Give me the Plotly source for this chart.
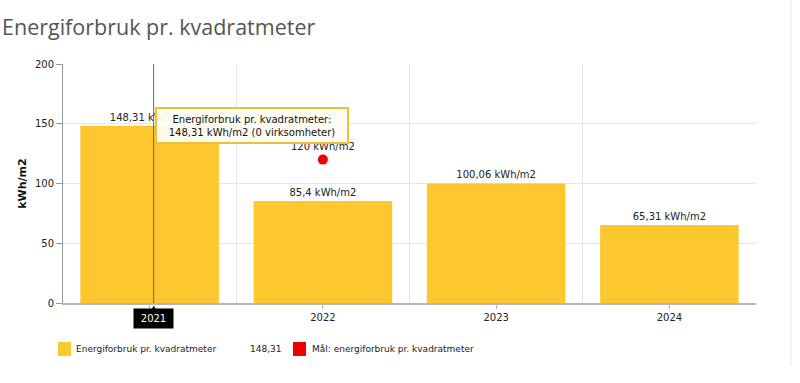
import plotly.graph_objects as go

years = ["2021", "2022", "2023", "2024"]
values = [148.31, 85.4, 100.06, 65.31]
value_labels = ["148,31 kWh/m2", "85,4 kWh/m2", "100,06 kWh/m2", "65,31 kWh/m2"]
target_year_index = [1]
target_values = [120]
target_labels = ["120 kWh/m2"]
y_ticks = [0, 50, 100, 150, 200]
series_names = ["Energiforbruk pr. kvadratmeter", "Mål: energiforbruk pr. kvadratmeter"]
legend_value = "148,31"
hover_index = 0
cursor_offset = 0.023  # mouse position relative to category centre

xs = list(range(len(years)))
BAR = "#FDC82F"
RED = "#EE0000"
FONT = "DejaVu Sans"

W, H = 800, 383
L, R, T, B = 63, 44, 64, 80
PW, PH = W - L - R, H - T - B


def px(xp):
    return (xp - L) / PW


def py(yp):
    return (H - B - yp) / PH


# the hovered category's tick label is hidden under the black crosshair label
tick_text = [("" if i == hover_index else y) for i, y in enumerate(years)]

fig = go.Figure()
fig.add_trace(go.Bar(
    x=xs, y=values, width=0.8, marker=dict(color=BAR, line=dict(width=0)),
    text=value_labels, textposition="outside", cliponaxis=False,
    textfont=dict(family=FONT, size=10, color="#222"),
    name=series_names[0], showlegend=False,
))
fig.add_trace(go.Scatter(
    x=target_year_index, y=target_values, mode="markers+text",
    text=target_labels, textposition="top center",
    textfont=dict(family=FONT, size=10, color="#222"),
    marker=dict(color=RED, size=10, symbol="circle"),
    name=series_names[1], showlegend=False,
))
hx = xs[hover_index] + cursor_offset
# crosshair on hovered category
fig.add_shape(type="line", x0=hx, x1=hx, y0=0, y1=1, yref="paper",
              line=dict(color="#666", width=1))
# tooltip
fig.add_annotation(
    x=hx, y=values[hover_index], xanchor="left", yanchor="middle", xshift=1,
    text=series_names[0] + ":<br>" + value_labels[hover_index] + " (0 virksomheter)",
    showarrow=False, align="center", width=188, height=31,
    font=dict(family=FONT, size=10, color="#111"),
    bgcolor="rgba(255,253,242,0.96)", bordercolor="#EDC03A", borderwidth=2, borderpad=1,
)
# x crosshair label
fig.add_annotation(
    x=hx, y=0, yref="y", yanchor="top", yshift=-5, text=years[hover_index], showarrow=False,
    font=dict(family=FONT, size=10, color="white"), bgcolor="black", borderpad=4,
    width=31,
)
fig.add_annotation(
    x=hx, y=0, yref="y", yanchor="top", yshift=1, text="▲", showarrow=False,
    font=dict(family=FONT, size=7, color="black"),
)

# manual legend
leg_y = py(349)
fig.add_shape(type="rect", xref="paper", yref="paper",
              x0=px(58), x1=px(71), y0=py(356), y1=py(342),
              fillcolor=BAR, line=dict(width=0))
fig.add_annotation(x=px(74), y=leg_y, xref="paper", yref="paper", xanchor="left", yanchor="middle",
                   text=series_names[0], showarrow=False,
                   font=dict(family=FONT, size=9, color="#222"))
fig.add_annotation(x=px(248), y=leg_y, xref="paper", yref="paper", xanchor="left", yanchor="middle",
                   text=legend_value, showarrow=False,
                   font=dict(family=FONT, size=9, color="#222"))
fig.add_shape(type="rect", xref="paper", yref="paper",
              x0=px(293), x1=px(306), y0=py(356), y1=py(342),
              fillcolor=RED, line=dict(width=0))
fig.add_annotation(x=px(310), y=leg_y, xref="paper", yref="paper", xanchor="left", yanchor="middle",
                   text=series_names[1], showarrow=False,
                   font=dict(family=FONT, size=9, color="#222"))

# page border at right
fig.add_shape(type="line", xref="paper", yref="paper", x0=px(791), x1=px(791), y0=py(366), y1=py(0),
              line=dict(color="#e8e8e8", width=1))

fig.update_layout(
    width=W, height=H,
    margin=dict(l=L, r=R, t=T, b=B),
    paper_bgcolor="white", plot_bgcolor="white",
    title=dict(text="Energiforbruk pr. kvadratmeter", x=2 / W, xanchor="left", y=1 - 20 / H, yanchor="top",
               font=dict(family="Open Sans", size=21.5, color="#555")),
    showlegend=False,
    xaxis=dict(
        range=[-0.5, 3.5], tickvals=xs, ticktext=tick_text, showgrid=False, zeroline=False,
        showline=True, linecolor="#b5b5b5", linewidth=2, ticks="outside", ticklen=4, tickcolor="#b5b5b5",
        tickfont=dict(family=FONT, size=10, color="#222"),
        minor=dict(tickvals=[0.5, 1.5, 2.5, 3.5], showgrid=True, gridcolor="#e6e6e6", ticks=""),
    ),
    yaxis=dict(
        range=[0, 200], tickvals=y_ticks, showgrid=True, gridcolor="#e6e6e6", zeroline=False,
        showline=True, linecolor="#999", linewidth=1, ticks="outside", ticklen=6, tickcolor="#999",
        tickfont=dict(family=FONT, size=10, color="#222"),
        title=dict(text="<b>kWh/m2</b>", font=dict(family=FONT, size=11, color="#111"), standoff=6),
    ),
)
fig.write_html("out.html", config={"displayModeBar": False})

with open("out.html", "r", encoding="utf-8") as f:
    html = f.read()
html = html.replace("<body>", '<body style="margin:0;padding:0;">', 1)
html = html.replace("<head>", "<head><style>html,body{margin:0;padding:0;overflow:hidden;}</style>", 1)
with open("out.html", "w", encoding="utf-8") as f:
    f.write(html)
